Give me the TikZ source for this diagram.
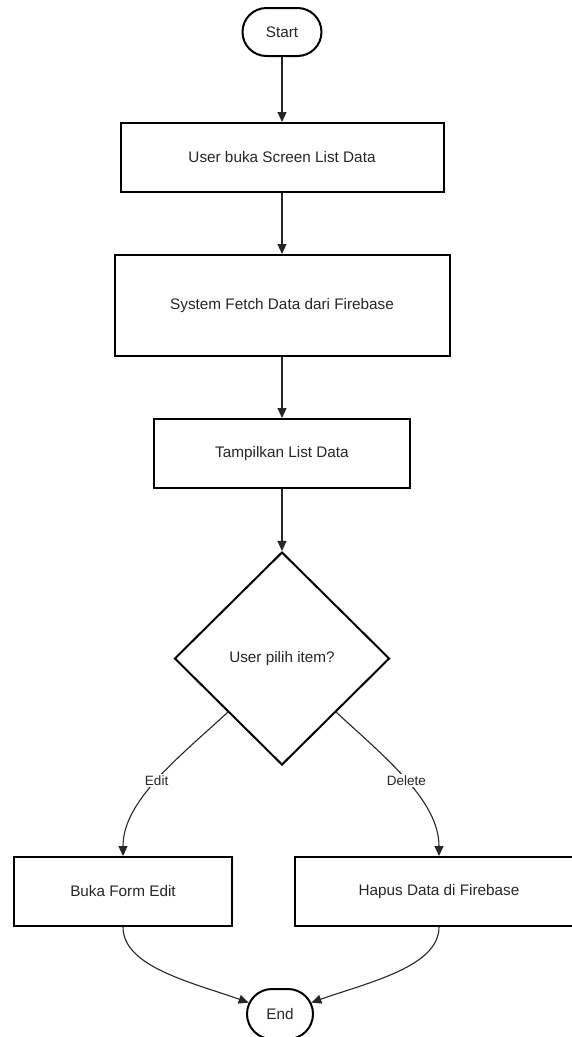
\documentclass[tikz,border=0pt]{standalone}
\usepackage{fontspec}
\setmainfont{Liberation Sans}
\usetikzlibrary{shapes.geometric,shapes.misc,arrows.meta}
\begin{document}
\begin{tikzpicture}[x=1pt,y=-1pt,
  every node/.style={font=\fontsize{15.3}{18}\selectfont, text=black!85},
  proc/.style={draw=black, line width=2pt, rectangle, minimum height=69pt, inner sep=0pt},
  term/.style={draw=black, line width=2pt, rounded rectangle, minimum height=48pt, inner sep=0pt},
  decision/.style={draw=black, line width=2pt, diamond, minimum width=215pt, minimum height=213pt, inner sep=0pt},
  flow/.style={line width=1.1pt, draw=black!85, -{Triangle[length=10pt,width=9pt]}},
  lbl/.style={fill=white, font=\fontsize{13.5}{16}\selectfont, inner sep=1.5pt}]
\useasboundingbox (0,0) rectangle (571,1037);

% process steps
\node[term, minimum width=79pt] (start) at (282,32) {Start};
\node[proc, minimum width=323pt] (list) at (282,157.5) {User buka Screen List Data};
\node[proc, minimum width=335pt, minimum height=101pt] (fetch) at (282,305.5) {System Fetch Data dari Firebase};
\node[proc, minimum width=256pt] (show) at (282,453.5) {Tampilkan List Data};
\node[decision] (pick) at (282,658.5) {User pilih item?};
\node[proc, minimum width=218pt] (edit) at (123,891.5) {Buka Form Edit};
\node[proc, minimum width=288pt] (del) at (439,891.5) {Hapus Data di Firebase};
\node[term, minimum width=66pt, minimum height=50pt] (end) at (280,1014) {End};

% connectors
\draw[flow] (start) -- (list);
\draw[flow] (list) -- (fetch);
\draw[flow] (fetch) -- (show);
\draw[flow] (show) -- (pick);
\draw[flow] (pick.south west) .. controls +(-50,46) and +(0,-55) .. node[lbl]{Edit} (edit.north);
\draw[flow] (pick.south east) .. controls +(50,46) and +(0,-55) .. node[lbl]{Delete} (del.north);
\draw[flow] (edit.south) .. controls +(0,40) and +(-56,-20) .. (end.160);
\draw[flow] (del.south) .. controls +(0,40) and +(56,-20) .. (end.20);
\end{tikzpicture}
\end{document}
